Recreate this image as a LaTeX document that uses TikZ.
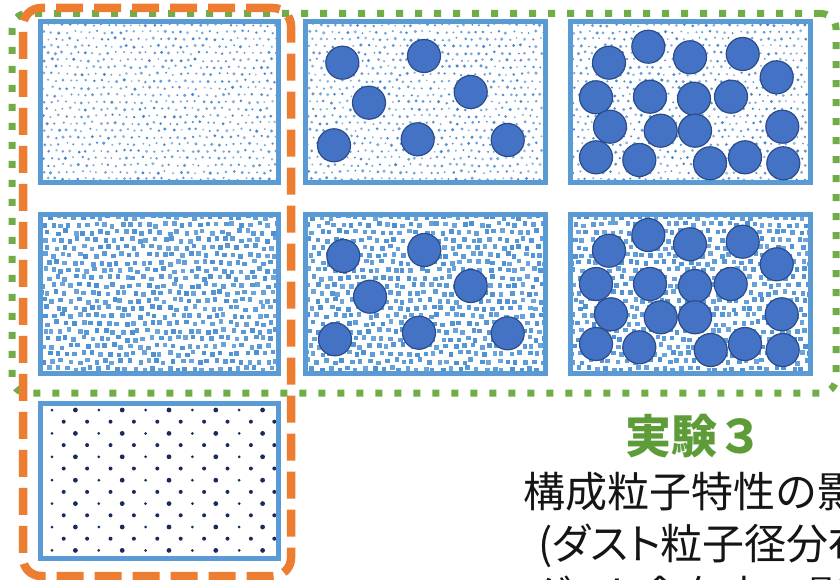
\documentclass[tikz,border=0pt]{standalone}
\usepackage{fontspec}
\newfontfamily\jp{Noto Sans CJK JP}
\definecolor{boxblue}{HTML}{5B9BD5}
\definecolor{dotblue}{HTML}{3F83C9}
\definecolor{sqblue}{HTML}{4A8FD2}
\definecolor{navydot}{HTML}{1B2A5E}
\definecolor{partfill}{HTML}{4472C4}
\definecolor{partedge}{HTML}{2B4C8C}
\definecolor{orng}{HTML}{ED7D31}
\definecolor{grn}{HTML}{70AD47}
\definecolor{txtgrn}{HTML}{5E9C3A}
\definecolor{txtblk}{HTML}{151515}

\newcommand\finedots[4]{%
\begin{scope}
\clip (#1,#2) rectangle (#3,#4);
\foreach \i in {0,...,31}{\foreach \j in {0,...,23}{%
 \pgfmathsetmacro\dotX{#1+\i*7.6+mod(\j,2)*3.8+rand*1.3}%
 \pgfmathsetmacro\dotY{#2+3+\j*7+rand*1.3}%
 \pgfmathsetmacro\dotR{1.35+rand*0.4}%
 \pgfmathtruncatemacro\dotC{55+rnd*45}%
 \fill[dotblue!\dotC!white] (\dotX,\dotY) circle[radius=\dotR];
}}
\end{scope}}

\newcommand\squaredots[4]{%
\begin{scope}
\clip (#1,#2) rectangle (#3,#4);
\foreach \i in {0,...,28}{\foreach \j in {0,...,21}{%
 \pgfmathsetmacro\dotX{#1+\i*8.6+mod(\j,2)*4.3+rand*2}%
 \pgfmathsetmacro\dotY{#2+3+\j*7.6+rand*1.8}%
 \pgfmathtruncatemacro\dotC{80+rnd*20}%
 \fill[sqblue!\dotC!white] (\dotX,\dotY) +(-2.3,-2.3) rectangle +(2.3,2.3);
}}
\end{scope}}

\tikzset{
  sample/.style={draw=boxblue, line width=5pt, inner sep=0pt, outer sep=0pt},
  part/.style={circle, fill=partfill, draw=partedge, line width=1.2pt, minimum size=33pt, inner sep=0pt},
  greenframe/.style={draw=grn, line width=7pt, dash pattern=on 7pt off 12pt, rounded corners=15pt, inner sep=0pt},
  orangeframe/.style={draw=orng, line width=8.5pt, dash pattern=on 27pt off 11pt, rounded corners=18pt, inner sep=0pt},
  jptext/.style={inner sep=0pt, anchor=base west, text=txtblk, font=\jp\fontsize{42}{50}\selectfont},
}

\begin{document}
\begin{tikzpicture}[x=1pt,y=-1pt]
\useasboundingbox (0,0) rectangle (840,580);
\clip (0,0) rectangle (840,580);
\fill[white] (0,0) rectangle (840,580);
\pgfmathsetseed{11}

% patterns
\finedots{40}{22}{278}{183}
\finedots{305}{22}{545}{183}
\finedots{570}{22}{810}{183}
\squaredots{40}{214}{278}{373}
\squaredots{305}{214}{545}{373}
\squaredots{570}{214}{810}{373}

\begin{scope}
\clip (40,403) rectangle (278,558);
\foreach \j in {0,...,12}{\foreach \i in {0,...,9}{%
  \pgfmathsetmacro\dotX{52+\i*23.4+mod(\j,2)*11.7}%
  \pgfmathsetmacro\dotY{410+\j*11.7}%
  \pgfmathsetmacro\dotR{mod(\j,2)==1 ? 2.0 : (mod(\i,2)==0 ? 1.5 : 2.4)}%
  \fill[navydot] (\dotX,\dotY) circle[radius=\dotR];
}}
\end{scope}

% sample boxes
\node[sample, minimum width=238pt, minimum height=161pt] (s11) at (159,102.5) {};
\node[sample, minimum width=240pt, minimum height=161pt] (s12) at (425,102.5) {};
\node[sample, minimum width=240pt, minimum height=161pt] (s13) at (690,102.5) {};
\node[sample, minimum width=238pt, minimum height=159pt] (s21) at (159,293.5) {};
\node[sample, minimum width=240pt, minimum height=159pt] (s22) at (425,293.5) {};
\node[sample, minimum width=240pt, minimum height=159pt] (s23) at (690,293.5) {};
\node[sample, minimum width=238pt, minimum height=155pt] (s31) at (159,480.5) {};

% large particles
\foreach \x/\y [count=\k] in {342.3/62.7,424/56,369/102.7,470.7/92,334/145.3,417.7/139.3,507.7/140}
  \node[part] (pa\k) at (\x,\y) {};
\foreach \x/\y [count=\k] in {343.3/256,424.3/250,370/296.7,470.7/286,335/339.3,419/332.7,507.7/333.3}
  \node[part] (pb\k) at (\x,\y) {};
\foreach \x/\y [count=\k] in {609/62.7,648.3/46.7,690/57.3,742.7/54,776.7/77.3,596/97.3,650/96.7,694/98.7,731/96.7,610/126.7,660.7/130.7,695/130.7,782.3/126.7,596/157.3,639.3/160,710/163.3,745/157.3,783.3/163.3}
  \node[part] (pc\k) at (\x,\y) {};
\foreach \x/\y [count=\k] in {609/250.7,648.3/235,690/244.3,742.7/241.7,776.7/264.3,596/284,650/284,695/286,730.7/284,611/314.3,660.7/317.3,695/317.3,781.7/314.3,596/344,639.3/347.3,710.7/350,745/344,782.7/350}
  \node[part] (pd\k) at (\x,\y) {};

% frames
\node[greenframe, minimum width=824pt, minimum height=379.5pt] (exp3) at (424,203.25) {};
\node[orangeframe, minimum width=268pt, minimum height=568pt] (expL) at (157,292) {};

% texts
\node[inner sep=0pt, anchor=base, text=txtgrn, font=\jp\bfseries\fontsize{46}{54}\selectfont] (title) at (694,453) {実験３};
\node[jptext] (l1) at (523,507) {構成粒子特性の影響};
\node[jptext] (l2) at (538,559) {{\addfontfeatures{RawFeature=+palt}(ダスト}粒子径分布)};
\node[jptext] (l3) at (531,611) {{\addfontfeatures{RawFeature=+palt}ダスト}含有率の影響};
\end{tikzpicture}
\end{document}
